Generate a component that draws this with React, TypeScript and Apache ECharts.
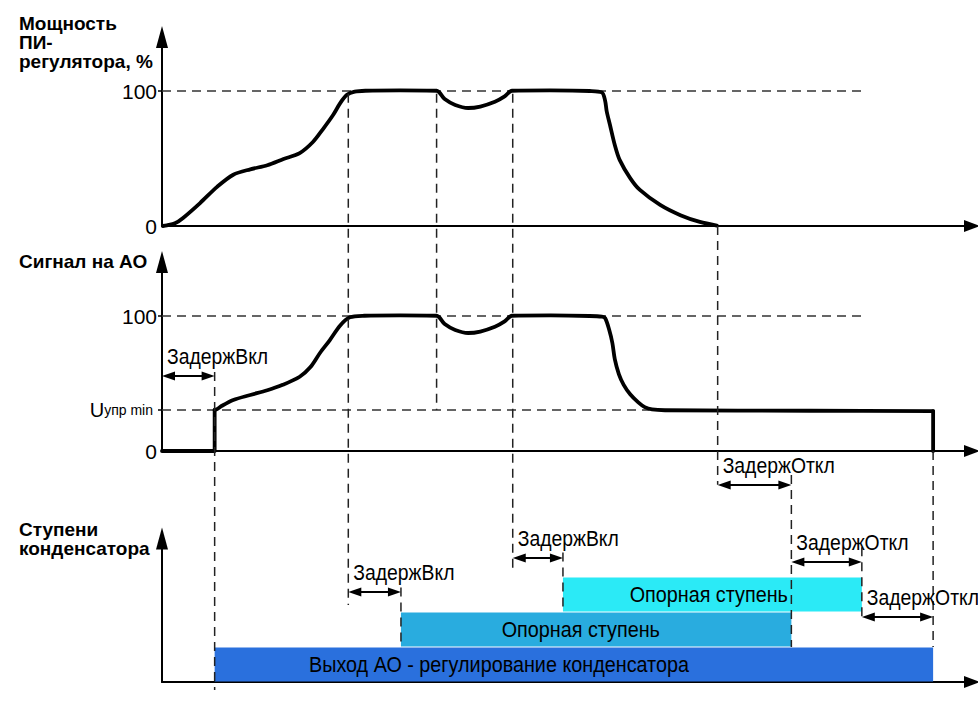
import React, { useEffect, useRef } from 'react';
import * as echarts from 'echarts';

const SANS = "'Liberation Sans', Arial, sans-serif";
const NARROW = "'Liberation Sans Narrow', 'Arial Narrow', 'Liberation Sans', sans-serif";

// time axis (arbitrary units) shared by all three panels
const T_MIN = 0;
const T_MAX = 100;
const U_MIN = 30.4; // Uупр min, % of AO signal

// PI-regulator power, %
const piTime = [0.1, 0.6, 1.6, 2.6, 4.7, 6.8, 8.8, 10.9, 13, 15, 17, 18.6, 19.9, 21.1, 22, 22.8, 23.8, 25.1, 29.4, 33.9,
  34.9, 36.2, 37.8, 39.3, 41.1, 42.3, 43.2, 47.9, 52.8, 54.3, 54.7, 54.9, 55.3, 55.9, 56.5, 57.8, 59, 61.5, 64, 66.4, 68.5];
const piPower = [0, 0.5, 2, 6, 17, 29, 38, 42, 45, 49.6, 54, 62, 72, 82, 91, 97, 99.5, 100.2, 100.5, 100.2,
  94, 89.6, 87.4, 88.5, 92, 96, 100.2, 100.4, 100, 99, 93, 85, 75, 60, 49, 35.5, 26.7, 15.6, 8, 3, 0.3];

// AO signal, %
const aoOffTime = [0, 6.5, 6.5];
const aoOffSignal = [0, 0, U_MIN];
const aoTime = [6.5, 6.8, 7.4, 8.8, 10.9, 13, 14.9, 17, 18.3, 19.5, 20.7, 22, 23.2, 25, 29.4, 33.9,
  34.9, 36.2, 37.8, 39.3, 41.1, 42.3, 43.2, 48, 52.8, 54.3, 54.7, 55.2, 55.6, 55.9, 56.4, 57, 57.8, 58.8, 59.6, 60.5, 62.1, 80, 95.2];
const aoSignal = [U_MIN, 31, 33.5, 37.8, 41.5, 45, 49, 55, 62, 72.6, 82, 93, 99, 100.2, 100.5, 100.2,
  94, 89.6, 87.4, 88.5, 92, 96, 100.2, 100.4, 100, 99.5, 98.5, 90, 80, 68, 57, 49, 42, 36, 32.5, 30.8, 30.2, 29.8, 29.6];
const aoEndTime = [95.2, 95.2];
const aoEndSignal = [29.6, 0];

// reference (dashed) levels: [panel, level, end time]
const refPanel = [0, 1, 1];
const refLevel = [100, 100, U_MIN];
const refEnd = [86.4, 86.4, 60.2];

// capacitor stages
const barLabel = ['Выход АО - регулирование конденсатора', 'Опорная ступень', 'Опорная ступень'];
const barStart = [6.5, 29.5, 49.5];
const barEnd = [95.2, 77.7, 86.4];
const barLevel = [0, 1, 2];
const barLabelAt = [41.6, 51.7, 67.5];
const barColor = ['#2a70dd', '#29acdf', '#2beaf6'];

// vertical guide lines: time, from [panel, value], to [panel, value]
const guideTime = [6.5, 23, 33.9, 43.3, 29.5, 49.5, 68.6, 77.7, 86.4, 95.2];
const guideFromPanel = [1, 0, 0, 0, 2, 2, 0, 1, 2, 1];
const guideFromValue = [58.5, 98, 98, 98, 2.7, 3.7, 0, -17.8, 3.85, 0];
const guideToPanel = [2, 2, 1, 2, 2, 2, 1, 2, 2, 2];
const guideToValue = [-0.23, 2.2, U_MIN, 3.15, 1, 2, -25, 1, 1.83, 1];

// delay annotations (double arrows)
const delayLabel = ['ЗадержВкл', 'ЗадержОткл', 'ЗадержВкл', 'ЗадержВкл', 'ЗадержОткл', 'ЗадержОткл'];
const delayStart = [0, 68.6, 23, 43.3, 77.7, 86.4];
const delayEnd = [6.5, 77.7, 29.5, 49.5, 86.4, 95.2];
const delayPanel = [1, 1, 2, 2, 2, 2];
const delayLevel = [55.5, -25.2, 2.57, 3.54, 3.43, 1.86];

const zip = (a: number[], b: number[]) => a.map((v, i) => [v, b[i]]);

const gridTops = [37, 262, 538.5];
const gridHeights = [189, 189, 143.5];
const yMax = [140, 140, 4.1];

const TEXT_FONT = `22px ${NARROW}`;
const TEXT_SCALE = 0.88;

function axisLineStyle(size: number[]) {
  return {
    show: true,
    onZero: false,
    symbol: ['none', 'triangle'],
    symbolSize: size,
    lineStyle: { color: '#000', width: 2 },
  };
}

export default function App() {
  const ref = useRef<HTMLDivElement>(null);

  useEffect(() => {
    if (!ref.current) return;
    const chart = echarts.init(ref.current, null, { renderer: 'svg' });

    const grids = gridTops.map((top, i) => ({ left: 162, right: 6, top, height: gridHeights[i] }));
    const xAxes = gridTops.map((_, i) => ({
      type: 'value', gridIndex: i, min: T_MIN, max: T_MAX,
      axisLine: axisLineStyle([12, 16]),
      axisTick: { show: false }, axisLabel: { show: false }, splitLine: { show: false },
    }));
    const labelBase = { show: true, margin: 5, fontFamily: NARROW, fontSize: 21, color: '#000' };
    const yAxes: any[] = [
      {
        type: 'value', gridIndex: 0, min: 0, max: yMax[0],
        axisLine: axisLineStyle([12, 22]),
        axisTick: { show: true, customValues: [100], length: 4, lineStyle: { color: '#000', width: 1.5 } },
        axisLabel: { ...labelBase, customValues: [0, 100] },
        splitLine: { show: false },
      },
      {
        type: 'value', gridIndex: 1, min: 0, max: yMax[1],
        axisLine: axisLineStyle([12, 22]),
        axisTick: { show: true, customValues: [U_MIN, 100], length: 4, lineStyle: { color: '#000', width: 1.5 } },
        axisLabel: {
          ...labelBase, customValues: [0, U_MIN, 100],
          formatter: (v: number) => (Math.abs(v - U_MIN) < 0.01 ? '{u|U}{s|упр min}' : String(v)),
          rich: {
            u: { fontFamily: NARROW, fontSize: 20, color: '#000' },
            s: { fontFamily: NARROW, fontSize: 14, color: '#000', padding: [0, 4, 0, 0] },
          },
        },
        splitLine: { show: false },
      },
      {
        type: 'value', gridIndex: 2, min: 0, max: yMax[2],
        axisLine: axisLineStyle([12, 22]),
        axisTick: { show: false }, axisLabel: { show: false }, splitLine: { show: false },
      },
    ];

    const series: any[] = [];
    refPanel.forEach((p, i) => {
      series.push({
        type: 'line', xAxisIndex: p, yAxisIndex: p, silent: true, z: 1,
        data: [[T_MIN, refLevel[i]], [refEnd[i], refLevel[i]]],
        showSymbol: false, symbol: 'none',
        lineStyle: { color: '#333', width: 1.5, type: [9, 6] },
      });
    });
    series.push({
      type: 'line', xAxisIndex: 0, yAxisIndex: 0, silent: true, z: 3,
      data: zip(piTime, piPower), smooth: 0.3, showSymbol: false, symbol: 'none',
      lineStyle: { color: '#000', width: 3.8, cap: 'round', join: 'round' },
    });
    [[aoOffTime, aoOffSignal, false], [aoTime, aoSignal, 0.3], [aoEndTime, aoEndSignal, false]].forEach((s: any) => {
      series.push({
        type: 'line', xAxisIndex: 1, yAxisIndex: 1, silent: true, z: 3,
        data: zip(s[0], s[1]), smooth: s[2], showSymbol: false, symbol: 'none',
        lineStyle: { color: '#000', width: 3.8, cap: 'round', join: 'round' },
      });
    });
    series.push({
      type: 'custom', xAxisIndex: 2, yAxisIndex: 2, silent: true, z: 2,
      data: barStart.map((s, i) => [s, barEnd[i], barLevel[i], barLabelAt[i]]),
      encode: { x: [0, 1], y: 2 },
      renderItem: (params: any, api: any) => {
        const i = params.dataIndex;
        const t0 = api.value(0), t1 = api.value(1), lv = api.value(2), tl = api.value(3);
        const p0 = api.coord([t0, lv]);
        const p1 = api.coord([t1, lv + 1]);
        const pl = api.coord([tl, lv + 0.5]);
        return {
          type: 'group',
          children: [
            { type: 'rect', shape: { x: p0[0], y: p1[1] + 0.5, width: p1[0] - p0[0], height: p0[1] - p1[1] - 1 }, style: { fill: barColor[i] } },
            { type: 'text', x: pl[0], y: pl[1], scaleX: 0.9, style: { text: barLabel[i], fill: '#000', font: TEXT_FONT, align: 'center', verticalAlign: 'middle' } },
          ],
        };
      },
    });

    const titleStyle = { fontFamily: SANS, fontWeight: 'bold', fontSize: 19, lineHeight: 19, color: '#000' };
    chart.setOption({
      animation: false,
      backgroundColor: '#fff',
      title: [
        { text: 'Мощность\nПИ-\nрегулятора, %', left: 19, top: 14, padding: 0, textStyle: titleStyle },
        { text: 'Сигнал на АО', left: 19, top: 252, padding: 0, textStyle: titleStyle },
        { text: 'Ступени\nконденсатора', left: 19, top: 520, padding: 0, textStyle: titleStyle },
      ],
      grid: grids,
      xAxis: xAxes,
      yAxis: yAxes,
      series,
    });

    const px = (g: number, t: number, v: number) => chart.convertToPixel({ gridIndex: g } as any, [t, v]) as number[];
    const els: any[] = [];
    guideTime.forEach((t, i) => {
      const a = px(guideFromPanel[i], t, guideFromValue[i]);
      const b = px(guideToPanel[i], t, guideToValue[i]);
      els.push({
        type: 'line', z: 50, silent: true,
        shape: { x1: a[0], y1: a[1], x2: b[0], y2: b[1] },
        style: { stroke: '#222', lineWidth: 1.5, lineDash: [9, 6] },
      });
    });
    const HL = 13, HW = 4.5;
    delayLabel.forEach((lab, i) => {
      const a = px(delayPanel[i], delayStart[i], delayLevel[i]);
      const b = px(delayPanel[i], delayEnd[i], delayLevel[i]);
      const y = a[1];
      els.push({ type: 'line', z: 60, silent: true, shape: { x1: a[0] + 4, y1: y, x2: b[0] - 4, y2: y }, style: { stroke: '#000', lineWidth: 2 } });
      els.push({ type: 'polygon', z: 60, silent: true, shape: { points: [[a[0], y], [a[0] + HL, y - HW], [a[0] + HL, y + HW]] }, style: { fill: '#000' } });
      els.push({ type: 'polygon', z: 60, silent: true, shape: { points: [[b[0], y], [b[0] - HL, y - HW], [b[0] - HL, y + HW]] }, style: { fill: '#000' } });
      els.push({
        type: 'text', z: 60, silent: true, x: a[0] + 5, y: y - 20, scaleX: TEXT_SCALE,
        style: { text: lab, fill: '#000', font: TEXT_FONT, align: 'left', verticalAlign: 'middle' },
      });
    });
    chart.setOption({ graphic: { elements: els } });

    return () => chart.dispose();
  }, []);

  return <div ref={ref} style={{ position: 'fixed', left: 0, top: 0, width: 978, height: 705 }} />;
}
